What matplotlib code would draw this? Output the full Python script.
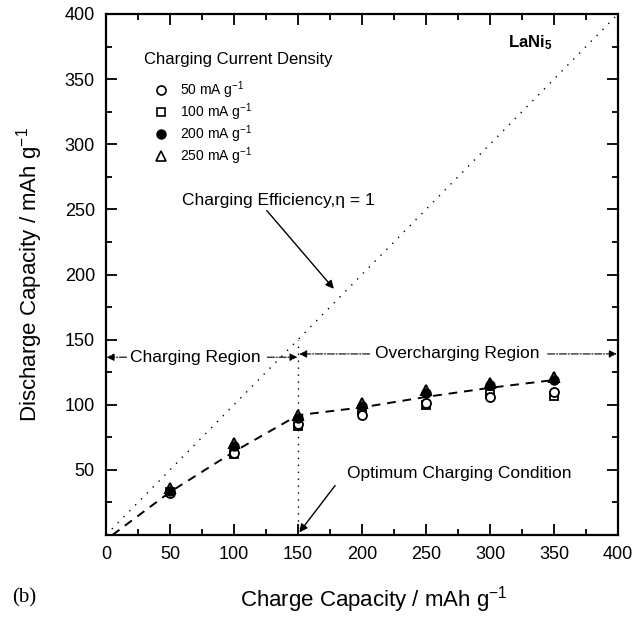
import matplotlib
matplotlib.use("Agg")
import matplotlib.pyplot as plt
from matplotlib.lines import Line2D
from matplotlib.ticker import MultipleLocator

plt.rcParams['font.family'] = ['Liberation Sans', 'DejaVu Sans']
plt.rcParams['mathtext.fontset'] = 'custom'
plt.rcParams['mathtext.rm'] = 'Liberation Sans'
plt.rcParams['mathtext.it'] = 'Liberation Sans:italic'
plt.rcParams['mathtext.bf'] = 'Liberation Sans:bold'

# charge capacity (mAh/g)
charge = [50, 100, 150, 200, 250, 300, 350]
# discharge capacity for each charging current density
dis_50 = [32, 63, 85, 92, 101, 106, 110]
dis_100 = [33, 62, 84, 96, 100, 108, 107]
dis_200 = [34, 68, 90, 99, 109, 115, 119]
dis_250 = [36, 71, 92, 101, 111, 117, 121]

# dashed guide through the data
fit_x = [5, 50, 100, 150, 200, 250, 300, 350]
fit_y = [0, 33, 64, 92, 98, 106, 113, 119]

# efficiency = 1 line
eta_x = [0, 400]
eta_y = [0, 400]
optimum_x = 150

fig = plt.figure(figsize=(6.41, 6.18), dpi=100)
ax = fig.add_axes([106 / 641, 1 - 535 / 618, 512 / 641, 521 / 618])

ax.plot(eta_x, eta_y, color='black', lw=1.0, linestyle=(0, (1, 5)))
ax.plot([optimum_x, optimum_x], [0, optimum_x], color='black', lw=1.0, linestyle=(0, (1, 4)))
ax.plot(fit_x, fit_y, color='black', lw=1.4, linestyle=(0, (4.5, 3.5)))

ms = 6.5
ax.plot(charge, dis_250, '^', ms=ms, mfc='none', mec='black', mew=1.4, ls='none')
ax.plot(charge, dis_100, 's', ms=ms - 1, mfc='white', mec='black', mew=1.3, ls='none')
ax.plot(charge, dis_50, 'o', ms=ms, mfc='white', mec='black', mew=1.3, ls='none')
ax.plot(charge, dis_200, 'o', ms=ms, mfc='black', mec='black', ls='none')

ax.set_xlim(0, 400)
ax.set_ylim(0, 400)
ax.xaxis.set_major_locator(MultipleLocator(50))
ax.xaxis.set_minor_locator(MultipleLocator(25))
ax.yaxis.set_major_locator(MultipleLocator(50))
ax.yaxis.set_minor_locator(MultipleLocator(25))
ax.set_yticks([50, 100, 150, 200, 250, 300, 350, 400])
ax.tick_params(which='both', direction='in', top=True, right=True, width=1.3)
ax.tick_params(which='major', length=8, labelsize=13, pad=8)
ax.tick_params(which='minor', length=4)
for s in ax.spines.values():
    s.set_linewidth(1.6)

ax.set_xlabel('Charge Capacity / mAh g$^{-1}$', fontsize=16, labelpad=15)
ax.xaxis.label.set_x(0.523)
ax.set_ylabel('Discharge Capacity / mAh g$^{-1}$', fontsize=16, labelpad=14)
fig.text(12 / 641, 1 - 598 / 618, '(b)', fontsize=15, family='Liberation Serif', va='center')

# legend
ax.text(30, 365, 'Charging Current Density', fontsize=12, va='center')
handles = [
    Line2D([], [], marker='o', ls='none', ms=6.5, mfc='white', mec='black', mew=1.2),
    Line2D([], [], marker='s', ls='none', ms=5.5, mfc='white', mec='black', mew=1.2),
    Line2D([], [], marker='o', ls='none', ms=6.5, mfc='black', mec='black'),
    Line2D([], [], marker='^', ls='none', ms=6.5, mfc='white', mec='black', mew=1.2),
]
labels = ['50 mA g$^{-1}$', '100 mA g$^{-1}$', '200 mA g$^{-1}$', '250 mA g$^{-1}$']
ax.legend(handles, labels, loc='upper left', bbox_to_anchor=(0.093, 0.874), frameon=False,
          fontsize=10, handlelength=1.0, handletextpad=0.9, labelspacing=0.02, borderpad=0,
          borderaxespad=0)

ax.text(314, 378, r'LaNi$_{\mathbf{5}}$', fontsize=12, fontweight='bold', va='center')

fs = 12.5
ax.annotate('Charging Efficiency,η = 1', xy=(178, 189), xytext=(59, 257), fontsize=fs, va='center',
            arrowprops=dict(arrowstyle='-|>', color='black', lw=1.0, mutation_scale=12,
                            shrinkA=0, shrinkB=0, relpos=(0.43, 0)))

ax.text(188, 47, 'Optimum Charging Condition', fontsize=fs, va='center')
ax.annotate('', xy=(151, 2), xytext=(179, 38),
            arrowprops=dict(arrowstyle='-|>', color='black', lw=1.0, mutation_scale=12,
                            shrinkA=0, shrinkB=0))

# region labels with dash-dot arrows
ax.text(19, 136.5, 'Charging Region', fontsize=fs, va='center')
ax.text(210, 139, 'Overcharging Region', fontsize=fs, va='center')
arrow = dict(arrowstyle='-|>', color='black', lw=0.8, linestyle='-.', mutation_scale=11,
             shrinkA=0, shrinkB=0)
ax.annotate('', xy=(0.5, 136.5), xytext=(16, 136.5), arrowprops=arrow)
ax.annotate('', xy=(149.5, 136.5), xytext=(126, 136.5), arrowprops=arrow)
ax.annotate('', xy=(151, 139), xytext=(206, 139), arrowprops=arrow)
ax.annotate('', xy=(399, 139), xytext=(345, 139), arrowprops=arrow)

fig.savefig('out.png', dpi=100)
